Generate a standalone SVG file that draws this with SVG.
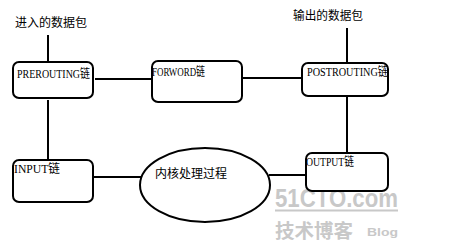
<svg xmlns="http://www.w3.org/2000/svg" width="458" height="250" viewBox="0 0 458 250">
  <style>
    .box { fill: #ffffff; stroke: #000000; stroke-width: 2; }
    .link { stroke: #000000; stroke-width: 2; fill: none; }
    .lbl { font-family: "Liberation Serif", "Noto Sans CJK SC", serif; font-size: 12px; fill: #000000; }
    .cjk { font-family: "Noto Sans CJK SC", sans-serif; font-size: 12px; fill: #000000; }
    .wm { font-family: "Liberation Sans", "Noto Sans CJK SC", sans-serif; fill: #c8c8c8; font-weight: bold; }
  </style>
  <rect width="458" height="250" fill="#ffffff"/>

  <!-- faint site mark, bottom right -->
  <g id="watermark">
    <text class="wm" x="275" y="207" font-size="26" textLength="123" lengthAdjust="spacingAndGlyphs">51CTO.com</text>
    <line x1="275" y1="210.5" x2="398" y2="210.5" stroke="#c8c8c8" stroke-width="2"/>
    <text class="wm" x="275" y="238" font-size="19" font-weight="normal" textLength="78" lengthAdjust="spacingAndGlyphs" font-family="Noto Sans CJK SC, sans-serif">技术博客</text>
    <text class="wm" x="367" y="236" font-size="11" textLength="31" lengthAdjust="spacingAndGlyphs">Blog</text>
  </g>

  <g id="connectors">
    <line class="link" x1="48" y1="35" x2="48" y2="62"/>
    <line class="link" x1="95" y1="79" x2="152" y2="79"/>
    <line class="link" x1="242" y1="78" x2="302" y2="78"/>
    <line class="link" x1="347" y1="28" x2="347" y2="63"/>
    <line class="link" x1="48" y1="100" x2="48" y2="160"/>
    <line class="link" x1="93" y1="177" x2="141" y2="177"/>
    <line class="link" x1="269" y1="175" x2="306" y2="175"/>
    <line class="link" x1="347" y1="97" x2="347" y2="153"/>
  </g>

  <g id="label-in">
    <text class="cjk" x="15" y="27" textLength="72" lengthAdjust="spacingAndGlyphs">进入的数据包</text>
  </g>
  <g id="label-out">
    <text class="cjk" x="293" y="20" textLength="70" lengthAdjust="spacingAndGlyphs">输出的数据包</text>
  </g>

  <g id="prerouting">
    <rect class="box" x="13" y="62" width="80" height="36" rx="6"/>
    <text class="lbl" x="17" y="78" textLength="73" lengthAdjust="spacingAndGlyphs">PREROUTING链</text>
  </g>

  <g id="forword">
    <rect class="box" x="152" y="61" width="90" height="41" rx="6"/>
    <text class="lbl" x="152" y="76" textLength="53" lengthAdjust="spacingAndGlyphs">FORWORD链</text>
  </g>

  <g id="postrouting">
    <rect class="box" x="302" y="63" width="86" height="33" rx="6"/>
    <text class="lbl" x="307" y="76" textLength="81" lengthAdjust="spacingAndGlyphs">POSTROUTING链</text>
  </g>

  <g id="input">
    <rect class="box" x="13" y="160" width="80" height="42" rx="6"/>
    <text class="lbl" x="14" y="173" textLength="46" lengthAdjust="spacingAndGlyphs">INPUT链</text>
  </g>

  <g id="output">
    <rect class="box" x="306" y="153" width="82" height="38" rx="6"/>
    <text class="lbl" x="306" y="166" textLength="48" lengthAdjust="spacingAndGlyphs">OUTPUT链</text>
  </g>

  <g id="kernel">
    <ellipse class="box" cx="205" cy="185" rx="65" ry="37"/>
    <text class="cjk" x="155" y="178" textLength="72" lengthAdjust="spacingAndGlyphs">内核处理过程</text>
  </g>
</svg>
